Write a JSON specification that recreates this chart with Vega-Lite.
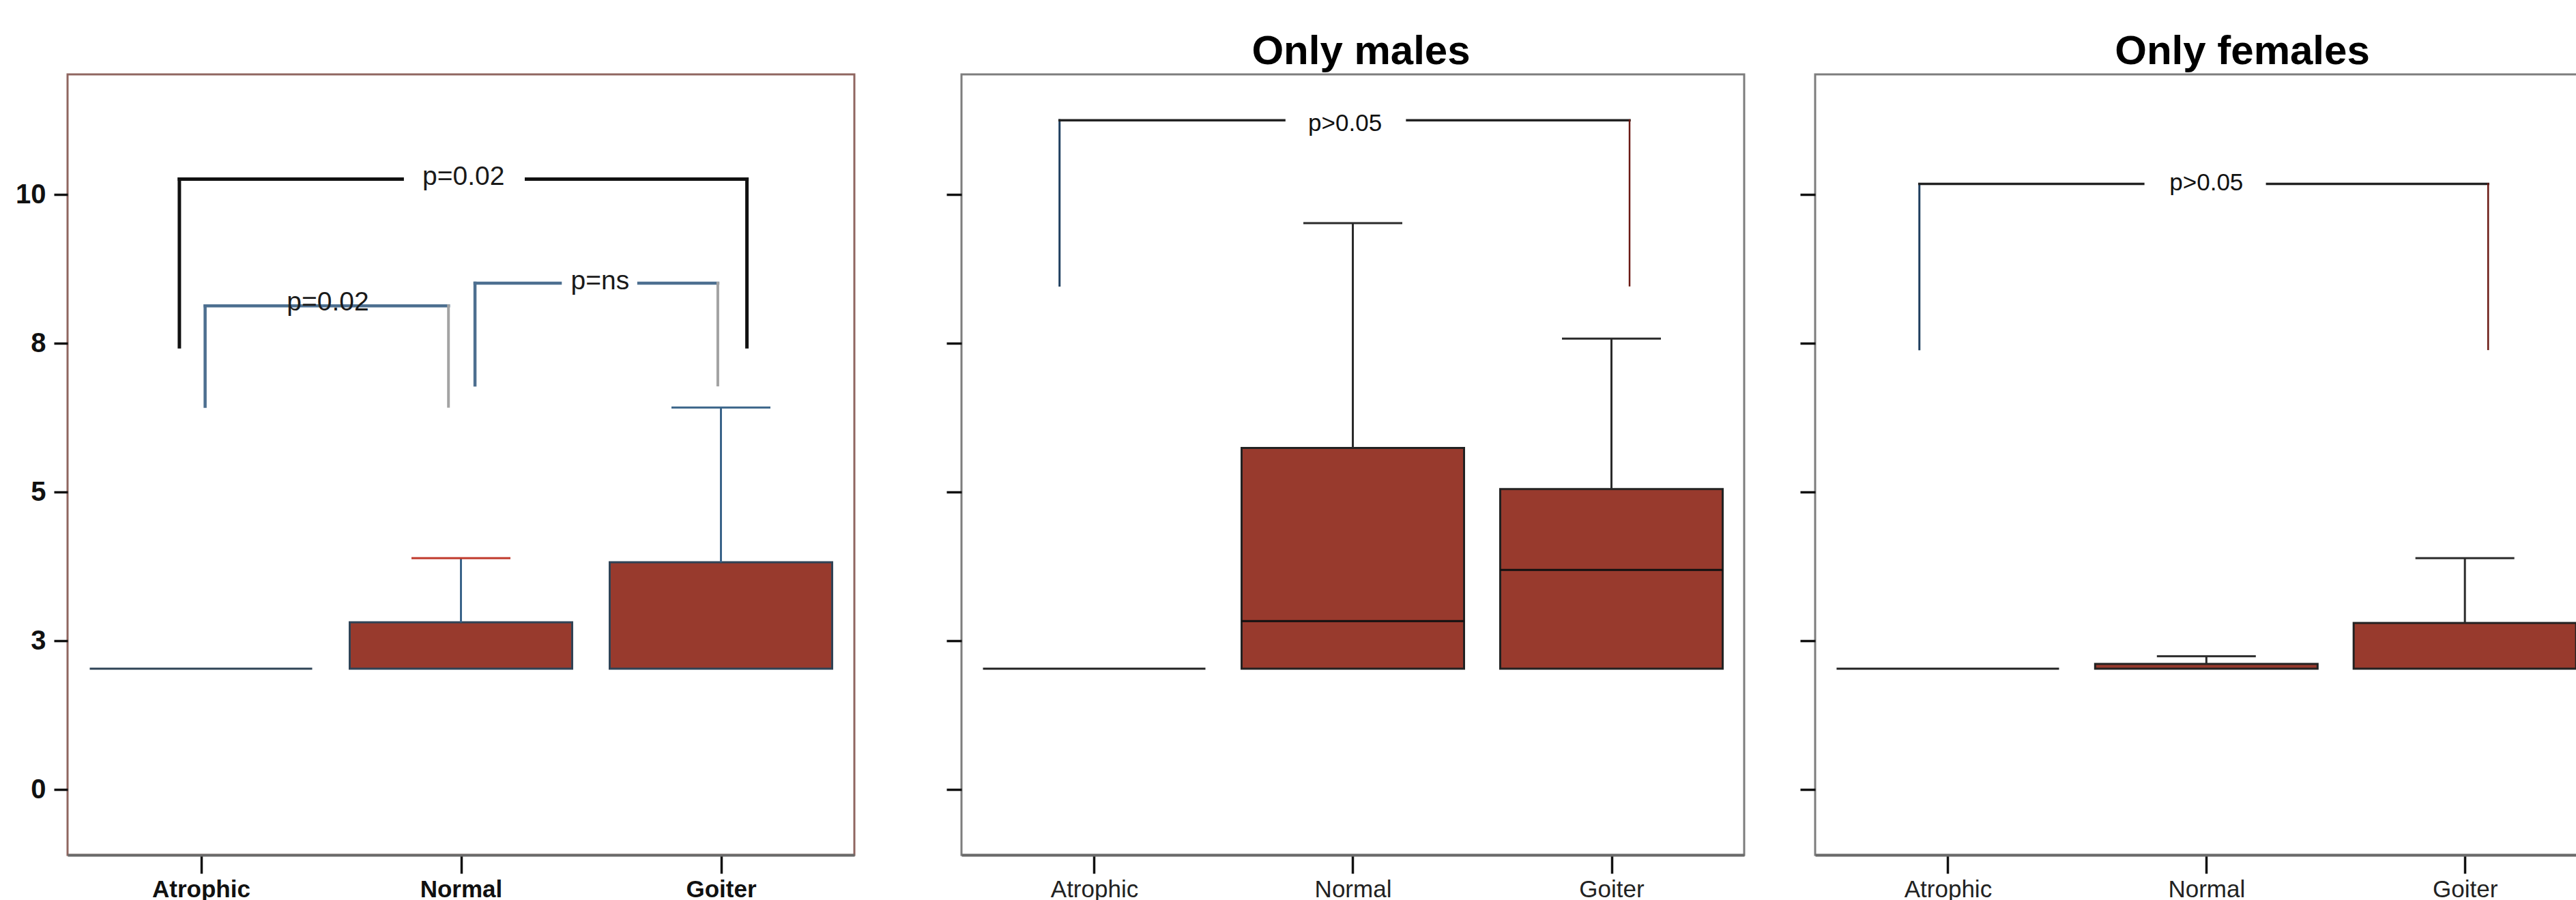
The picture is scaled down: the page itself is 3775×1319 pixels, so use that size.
{
  "$schema": "https://vega.github.io/schema/vega-lite/v6.json",
  "background": "white",
  "padding": {"left": 0, "top": 44, "right": 0, "bottom": 0},
  "spacing": 0,
  "config": {
    "font": "Liberation Sans",
    "axis": {"grid": false},
    "title": {"font": "Liberation Sans", "fontSize": 60, "fontWeight": "bold", "color": "#000000", "offset": 2, "anchor": "middle"}
  },
  "datasets": {
    "boxes": [
      {"panel": "All patients", "group": "Atrophic", "pos": 1, "q1": 2.03, "median": 2.03, "q3": 2.03, "hi": 2.03},
      {"panel": "All patients", "group": "Normal", "pos": 2, "q1": 2.03, "median": 2.03, "q3": 2.81, "hi": 3.89},
      {"panel": "All patients", "group": "Goiter", "pos": 3, "q1": 2.03, "median": 2.03, "q3": 3.82, "hi": 6.42},
      {"panel": "Only males", "group": "Atrophic", "pos": 1, "q1": 2.03, "median": 2.03, "q3": 2.03, "hi": 2.03},
      {"panel": "Only males", "group": "Normal", "pos": 2, "q1": 2.03, "median": 2.83, "q3": 5.74, "hi": 9.52},
      {"panel": "Only males", "group": "Goiter", "pos": 3, "q1": 2.03, "median": 3.69, "q3": 5.05, "hi": 7.58},
      {"panel": "Only females", "group": "Atrophic", "pos": 1, "q1": 2.03, "median": 2.03, "q3": 2.03, "hi": 2.03},
      {"panel": "Only females", "group": "Normal", "pos": 2, "q1": 2.03, "median": 2.03, "q3": 2.11, "hi": 2.24},
      {"panel": "Only females", "group": "Goiter", "pos": 3, "q1": 2.03, "median": 2.03, "q3": 2.8, "hi": 3.89}
    ],
    "brackets": [
      {"panel": "All patients", "part": "bold", "x": 0.917, "x2": 0.917, "y": 7.44, "y2": 10.26},
      {"panel": "All patients", "part": "bold", "x": 0.917, "x2": 1.774, "y": 10.26, "y2": 10.26},
      {"panel": "All patients", "part": "bold", "x": 2.252, "x2": 3.1, "y": 10.26, "y2": 10.26},
      {"panel": "All patients", "part": "bold", "x": 3.1, "x2": 3.1, "y": 7.44, "y2": 10.26},
      {"panel": "All patients", "part": "slate", "x": 1.016, "x2": 1.016, "y": 6.44, "y2": 8.13},
      {"panel": "All patients", "part": "slate", "x": 1.016, "x2": 1.952, "y": 8.13, "y2": 8.13},
      {"panel": "All patients", "part": "gray", "x": 1.952, "x2": 1.952, "y": 6.44, "y2": 8.13},
      {"panel": "All patients", "part": "slate", "x": 2.054, "x2": 2.054, "y": 6.8, "y2": 8.51},
      {"panel": "All patients", "part": "slate", "x": 2.054, "x2": 2.382, "y": 8.51, "y2": 8.51},
      {"panel": "All patients", "part": "slate", "x": 2.684, "x2": 2.988, "y": 8.51, "y2": 8.51},
      {"panel": "All patients", "part": "gray", "x": 2.988, "x2": 2.988, "y": 6.8, "y2": 8.51},
      {"panel": "Only males", "part": "blue", "x": 0.866, "x2": 0.866, "y": 8.47, "y2": 11.25},
      {"panel": "Only males", "part": "black", "x": 0.866, "x2": 1.735, "y": 11.25, "y2": 11.25},
      {"panel": "Only males", "part": "black", "x": 2.21, "x2": 3.07, "y": 11.25, "y2": 11.25},
      {"panel": "Only males", "part": "red", "x": 3.07, "x2": 3.07, "y": 8.47, "y2": 11.25},
      {"panel": "Only females", "part": "blue", "x": 0.89, "x2": 0.89, "y": 7.4, "y2": 10.18},
      {"panel": "Only females", "part": "black", "x": 0.89, "x2": 1.756, "y": 10.18, "y2": 10.18},
      {"panel": "Only females", "part": "black", "x": 2.235, "x2": 3.09, "y": 10.18, "y2": 10.18},
      {"panel": "Only females", "part": "red", "x": 3.09, "x2": 3.09, "y": 7.4, "y2": 10.18}
    ],
    "labels": [
      {"panel": "All patients", "label": "p=0.02", "x": 2.01, "y": 10.3},
      {"panel": "All patients", "label": "p=0.02", "x": 1.488, "y": 8.19},
      {"panel": "All patients", "label": "p=ns", "x": 2.535, "y": 8.55},
      {"panel": "Only males", "label": "p>0.05", "x": 1.97, "y": 11.2},
      {"panel": "Only females", "label": "p>0.05", "x": 2.0, "y": 10.2}
    ]
  },
  "hconcat": [
    {
      "width": 1153,
      "height": 1144,
      "view": {"stroke": "#8f6660", "strokeWidth": 3},
      "layer": [
        {
          "data": {"name": "boxes"},
          "transform": [{"filter": "datum.panel == 'All patients'"}],
          "mark": {"type": "bar", "width": 326, "fill": "#983a2d", "stroke": "#2f4356", "strokeWidth": 3},
          "encoding": {
            "x": {"field": "pos", "type": "quantitative", "title": null,
              "scale": {"domain": [0.5, 3.5], "nice": false, "zero": false},
              "axis": {"values": [1, 2, 3], "labelExpr": "datum.value == 1 ? 'Atrophic' : datum.value == 2 ? 'Normal' : 'Goiter'",
                "labelFont": "Liberation Sans", "labelFontSize": 35, "labelFontWeight": "bold", "labelColor": "#111111",
                "tickSize": 27, "tickWidth": 3.5, "tickColor": "#111111", "labelPadding": 6, "labelAngle": 0,
                "domainColor": "#6a6a6a", "domainWidth": 4, "labelFlush": false, "labelOverlap": false, "grid": false}},
            "y": {"field": "q1", "type": "quantitative", "title": null,
              "scale": {"domain": [-1.1, 12.02], "nice": false, "zero": false},
              "axis": {"values": [0, 2.5, 5, 7.5, 10], "format": ".0f", "labelFont": "Liberation Sans", "labelFontSize": 40,
                "labelFontWeight": "bold", "labelColor": "#111111", "tickSize": 20, "tickWidth": 3.5, "tickColor": "#111111",
                "labelPadding": 12, "domain": false, "minExtent": 97, "maxExtent": 97, "grid": false}},
            "y2": {"field": "q3"}
          }
        },
        {
          "data": {"name": "boxes"},
          "transform": [{"filter": "datum.panel == 'All patients' && datum.hi > datum.q3"}],
          "mark": {"type": "rule", "strokeWidth": 3, "color": "#3a6489"},
          "encoding": {
            "x": {"field": "pos", "type": "quantitative", "title": null},
            "y": {"field": "q3", "type": "quantitative", "title": null},
            "y2": {"field": "hi"}
          }
        },
        {
          "data": {"name": "boxes"},
          "transform": [{"filter": "datum.panel == 'All patients' && datum.hi > datum.q3"}],
          "mark": {"type": "tick", "orient": "horizontal", "size": 145, "thickness": 3, "opacity": 1},
          "encoding": {
            "x": {"field": "pos", "type": "quantitative", "title": null},
            "y": {"field": "hi", "type": "quantitative", "title": null},
            "color": {"condition": {"test": "datum.pos == 2", "value": "#c0392b"}, "value": "#3a6489"}
          }
        },
        {
          "data": {"name": "brackets"},
          "transform": [{"filter": "datum.panel == 'All patients'"}],
          "mark": {"type": "rule", "strokeCap": "square"},
          "encoding": {
            "x": {"field": "x", "type": "quantitative", "title": null},
            "x2": {"field": "x2"},
            "y": {"field": "y", "type": "quantitative", "title": null},
            "y2": {"field": "y2"},
            "color": {"field": "part", "type": "nominal", "legend": null,
              "scale": {"domain": ["bold", "slate", "gray", "black", "blue", "red"], "range": ["#111111", "#4d6f90", "#a3a3a3", "#222222", "#1f3f5f", "#6b1a14"]}},
            "strokeWidth": {"field": "part", "type": "ordinal", "legend": null,
              "scale": {"domain": ["bold", "slate", "gray", "black", "blue", "red"], "range": [5, 2.5, 2.5, 3, 3, 3]}}
          }
        },
        {
          "data": {"name": "labels"},
          "transform": [{"filter": "datum.panel == 'All patients'"}],
          "mark": {"type": "text", "font": "Liberation Sans", "fontSize": 39, "color": "#1a1a1a", "align": "center", "baseline": "middle"},
          "encoding": {
            "x": {"field": "x", "type": "quantitative", "title": null},
            "y": {"field": "y", "type": "quantitative", "title": null},
            "text": {"field": "label"}
          }
        }
      ]
    },
    {
      "width": 1147,
      "height": 1144,
      "title": {"text": "Only males", "dx": 12},
      "view": {"stroke": "#7d7d7d", "strokeWidth": 3},
      "layer": [
        {
          "data": {"name": "boxes"},
          "transform": [{"filter": "datum.panel == 'Only males'"}],
          "mark": {"type": "bar", "width": 326, "fill": "#983a2d", "stroke": "#222222", "strokeWidth": 3},
          "encoding": {
            "x": {"field": "pos", "type": "quantitative", "title": null,
              "scale": {"domain": [0.5, 3.5], "nice": false, "zero": false},
              "axis": {"values": [1, 2, 3], "labelExpr": "datum.value == 1 ? 'Atrophic' : datum.value == 2 ? 'Normal' : 'Goiter'",
                "labelFont": "Liberation Sans", "labelFontSize": 35, "labelFontWeight": "normal", "labelColor": "#222222",
                "tickSize": 27, "tickWidth": 3.5, "tickColor": "#111111", "labelPadding": 6, "labelAngle": 0,
                "domainColor": "#6a6a6a", "domainWidth": 4, "labelFlush": false, "labelOverlap": false, "grid": false}},
            "y": {"field": "q1", "type": "quantitative", "title": null,
              "scale": {"domain": [-1.1, 12.02], "nice": false, "zero": false},
              "axis": {"values": [0, 2.5, 5, 7.5, 10], "labels": false, "tickSize": 22, "tickWidth": 3.5, "tickColor": "#111111",
                "domain": false, "minExtent": 153.5, "maxExtent": 153.5, "grid": false}},
            "y2": {"field": "q3"}
          }
        },
        {
          "data": {"name": "boxes"},
          "transform": [{"filter": "datum.panel == 'Only males' && datum.hi > datum.q3"}],
          "mark": {"type": "rule", "strokeWidth": 3, "color": "#2a2a2a"},
          "encoding": {
            "x": {"field": "pos", "type": "quantitative", "title": null},
            "y": {"field": "q3", "type": "quantitative", "title": null},
            "y2": {"field": "hi"}
          }
        },
        {
          "data": {"name": "boxes"},
          "transform": [{"filter": "datum.panel == 'Only males' && datum.hi > datum.q3"}],
          "mark": {"type": "tick", "orient": "horizontal", "size": 145, "thickness": 3, "color": "#2a2a2a", "opacity": 1},
          "encoding": {
            "x": {"field": "pos", "type": "quantitative", "title": null},
            "y": {"field": "hi", "type": "quantitative", "title": null}
          }
        },
        {
          "data": {"name": "boxes"},
          "transform": [{"filter": "datum.panel == 'Only males' && datum.median > datum.q1"}],
          "mark": {"type": "tick", "orient": "horizontal", "size": 326, "thickness": 3, "color": "#111111", "opacity": 1},
          "encoding": {
            "x": {"field": "pos", "type": "quantitative", "title": null},
            "y": {"field": "median", "type": "quantitative", "title": null}
          }
        },
        {
          "data": {"name": "brackets"},
          "transform": [{"filter": "datum.panel == 'Only males'"}],
          "mark": {"type": "rule", "strokeCap": "square"},
          "encoding": {
            "x": {"field": "x", "type": "quantitative", "title": null},
            "x2": {"field": "x2"},
            "y": {"field": "y", "type": "quantitative", "title": null},
            "y2": {"field": "y2"},
            "color": {"field": "part", "type": "nominal", "legend": null,
              "scale": {"domain": ["bold", "slate", "gray", "black", "blue", "red"], "range": ["#111111", "#4d6f90", "#a3a3a3", "#222222", "#1f3f5f", "#6b1a14"]}},
            "strokeWidth": {"field": "part", "type": "ordinal", "legend": null,
              "scale": {"domain": ["bold", "slate", "gray", "black", "blue", "red"], "range": [5, 2.5, 2.5, 3, 3, 3]}}
          }
        },
        {
          "data": {"name": "labels"},
          "transform": [{"filter": "datum.panel == 'Only males'"}],
          "mark": {"type": "text", "font": "Liberation Sans", "fontSize": 35, "color": "#111111", "align": "center", "baseline": "middle"},
          "encoding": {
            "x": {"field": "x", "type": "quantitative", "title": null},
            "y": {"field": "y", "type": "quantitative", "title": null},
            "text": {"field": "label"}
          }
        }
      ]
    },
    {
      "width": 1118,
      "height": 1144,
      "title": {"text": "Only females", "dx": 67},
      "view": {"stroke": "#7d7d7d", "strokeWidth": 3},
      "layer": [
        {
          "data": {"name": "boxes"},
          "transform": [{"filter": "datum.panel == 'Only females'"}],
          "mark": {"type": "bar", "width": 326, "fill": "#983a2d", "stroke": "#222222", "strokeWidth": 3},
          "encoding": {
            "x": {"field": "pos", "type": "quantitative", "title": null,
              "scale": {"domain": [0.5, 3.4245], "nice": false, "zero": false},
              "axis": {"values": [1, 2, 3], "labelExpr": "datum.value == 1 ? 'Atrophic' : datum.value == 2 ? 'Normal' : 'Goiter'",
                "labelFont": "Liberation Sans", "labelFontSize": 35, "labelFontWeight": "normal", "labelColor": "#222222",
                "tickSize": 27, "tickWidth": 3.5, "tickColor": "#111111", "labelPadding": 6, "labelAngle": 0,
                "domainColor": "#6a6a6a", "domainWidth": 4, "labelFlush": false, "labelOverlap": false, "grid": false}},
            "y": {"field": "q1", "type": "quantitative", "title": null,
              "scale": {"domain": [-1.1, 12.02], "nice": false, "zero": false},
              "axis": {"values": [0, 2.5, 5, 7.5, 10], "labels": false, "tickSize": 22, "tickWidth": 3.5, "tickColor": "#111111",
                "domain": false, "minExtent": 100.5, "maxExtent": 100.5, "grid": false}},
            "y2": {"field": "q3"}
          }
        },
        {
          "data": {"name": "boxes"},
          "transform": [{"filter": "datum.panel == 'Only females' && datum.hi > datum.q3"}],
          "mark": {"type": "rule", "strokeWidth": 3, "color": "#2a2a2a"},
          "encoding": {
            "x": {"field": "pos", "type": "quantitative", "title": null},
            "y": {"field": "q3", "type": "quantitative", "title": null},
            "y2": {"field": "hi"}
          }
        },
        {
          "data": {"name": "boxes"},
          "transform": [{"filter": "datum.panel == 'Only females' && datum.hi > datum.q3"}],
          "mark": {"type": "tick", "orient": "horizontal", "size": 145, "thickness": 3, "color": "#2a2a2a", "opacity": 1},
          "encoding": {
            "x": {"field": "pos", "type": "quantitative", "title": null},
            "y": {"field": "hi", "type": "quantitative", "title": null}
          }
        },
        {
          "data": {"name": "brackets"},
          "transform": [{"filter": "datum.panel == 'Only females'"}],
          "mark": {"type": "rule", "strokeCap": "square"},
          "encoding": {
            "x": {"field": "x", "type": "quantitative", "title": null},
            "x2": {"field": "x2"},
            "y": {"field": "y", "type": "quantitative", "title": null},
            "y2": {"field": "y2"},
            "color": {"field": "part", "type": "nominal", "legend": null,
              "scale": {"domain": ["bold", "slate", "gray", "black", "blue", "red"], "range": ["#111111", "#4d6f90", "#a3a3a3", "#222222", "#1f3f5f", "#6b1a14"]}},
            "strokeWidth": {"field": "part", "type": "ordinal", "legend": null,
              "scale": {"domain": ["bold", "slate", "gray", "black", "blue", "red"], "range": [5, 2.5, 2.5, 3, 3, 3]}}
          }
        },
        {
          "data": {"name": "labels"},
          "transform": [{"filter": "datum.panel == 'Only females'"}],
          "mark": {"type": "text", "font": "Liberation Sans", "fontSize": 35, "color": "#111111", "align": "center", "baseline": "middle"},
          "encoding": {
            "x": {"field": "x", "type": "quantitative", "title": null},
            "y": {"field": "y", "type": "quantitative", "title": null},
            "text": {"field": "label"}
          }
        }
      ]
    }
  ]
}
